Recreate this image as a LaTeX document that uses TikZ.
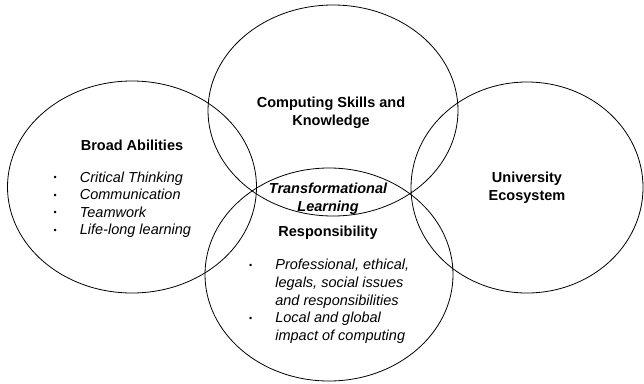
\documentclass[tikz,border=0pt]{standalone}
\usepackage{fontspec}
\setmainfont{Liberation Sans}
\usetikzlibrary{shapes.geometric}

\newcommand\vennfont{\fontsize{14.5}{17.6}\selectfont}
\newcommand\smalldot{\raisebox{1.6pt}{\fontsize{9}{9}\selectfont\textbullet}}

\begin{document}
\begin{tikzpicture}[x=1pt, y=-1pt,
  area/.style={draw, ellipse, line width=0.8pt, inner sep=0pt},
  heading/.style={font=\vennfont\bfseries, align=center, inner sep=0pt},
  bullets/.style={font=\vennfont, anchor=west, inner sep=0pt}]
\useasboundingbox (0,0) rectangle (644,383);

% the four areas
\node[area, minimum width=249pt, minimum height=212pt] (broad) at (132,187) {};
\node[area, minimum width=250pt, minimum height=211pt] (skills) at (333,110.5) {};
\node[area, minimum width=248pt, minimum height=213pt] (resp) at (329,274.5) {};
\node[area, minimum width=232pt, minimum height=211pt] (univ) at (527,187.5) {};

% headings
\node[heading] (broadtitle) at (132,145) {Broad Abilities};
\node[heading] (skillstitle) at (331,113) {Computing Skills and\\Knowledge};
\node[heading, font=\vennfont\bfseries\itshape] (core) at (328,199) {Transformational\\Learning};
\node[heading] (resptitle) at (328,233) {Responsibility};
\node[heading] (univtitle) at (527,188) {University\\Ecosystem};

% lists
\node[bullets] (broadlist) at (53.5,205) {%
  \begin{tabular}{@{}l@{\hspace{23pt}}l@{}}
  \smalldot & \textit{Critical Thinking}\\
  \smalldot & \textit{Communication}\\
  \smalldot & \textit{Teamwork}\\
  \smalldot & \textit{Life-long learning}
  \end{tabular}};
\node[bullets] (resplist) at (249,301.5) {%
  \begin{tabular}{@{}l@{\hspace{23pt}}l@{}}
  \smalldot & \textit{Professional, ethical,}\\
   & \textit{legals, social issues}\\
   & \textit{and responsibilities}\\
  \smalldot & \textit{Local and global}\\
   & \textit{impact of computing}
  \end{tabular}};
\end{tikzpicture}
\end{document}
